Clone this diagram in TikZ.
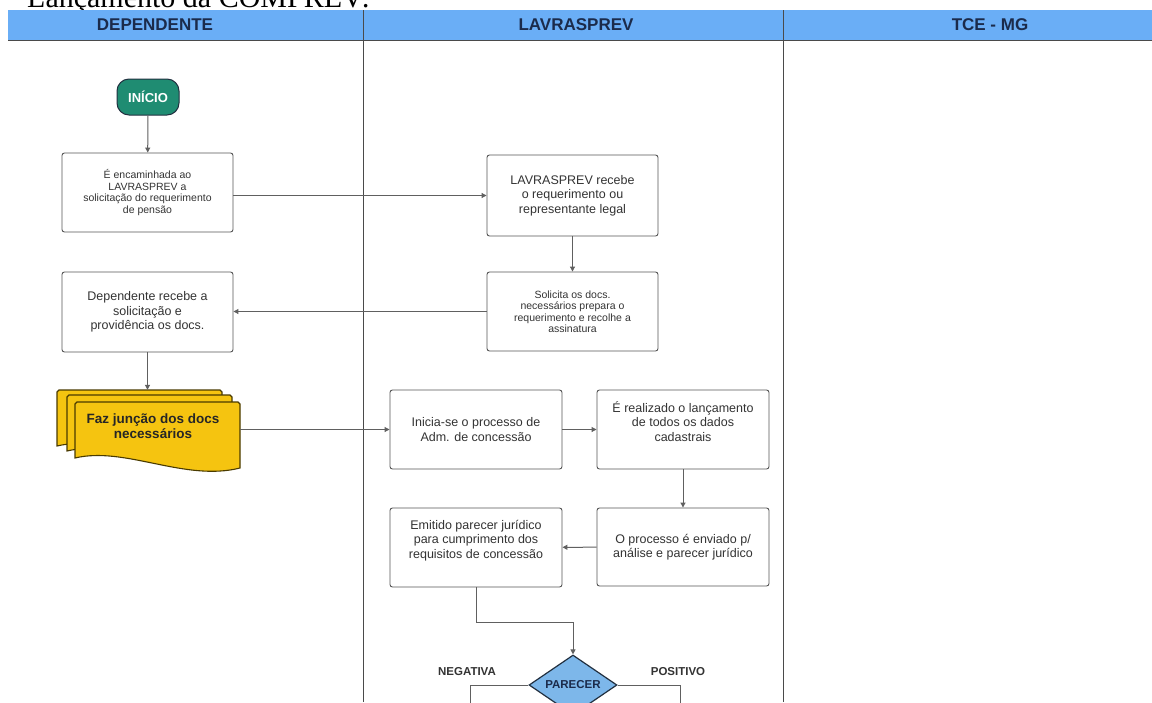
\documentclass[tikz,border=0pt]{standalone}
\usepackage{fontspec}
\setmainfont{Liberation Sans}
\newfontfamily\titlefont{Liberation Serif}
\usetikzlibrary{arrows.meta,shapes.geometric,calc}
\definecolor{hdr}{HTML}{6AAEF6}
\definecolor{hdrtxt}{HTML}{1B2B4B}
\definecolor{lanec}{HTML}{4A4A4A}
\definecolor{boxc}{HTML}{555555}
\definecolor{txtc}{HTML}{333333}
\definecolor{arrc}{HTML}{606060}
\definecolor{tealc}{HTML}{1F8C72}
\definecolor{docc}{HTML}{F5C410}
\definecolor{docb}{HTML}{4A3B00}
\definecolor{diac}{HTML}{7DB7EA}
\definecolor{diab}{HTML}{223040}
\newcommand\docsheet[2]{%
  \draw[docst] (#1,#2+56) -- (#1,#2+2) -- (#1+2,#2) -- (#1+163,#2) -- (#1+165,#2+2) -- (#1+165,#2+66)
    .. controls (#1+110,#2+80) and (#1+50,#2+44) .. (#1,#2+56) -- cycle;}
\begin{document}
\begin{tikzpicture}[x=1pt,y=-1pt,
  box/.style={draw=boxc, line width=0.9pt, rounded corners=2.5pt, fill=white,
    minimum width=171pt, minimum height=79pt, align=center, text=txtc,
    font=\fontsize{12.5}{14.5}\selectfont, inner sep=2pt},
  sbox/.style={box, font=\fontsize{10.5}{11.5}\selectfont},
  arr/.style={draw=arrc, line width=1pt, -{Triangle[length=5pt,width=5pt]}},
  ln/.style={draw=arrc, line width=1pt},
  hd/.style={font=\fontsize{17}{17}\selectfont\bfseries, text=hdrtxt},
  lbl/.style={font=\fontsize{11.5}{11.5}\selectfont\bfseries, text=txtc},
  docst/.style={draw=docb, line width=1.1pt, fill=docc},
  lane/.style={draw=lanec, line width=0.9pt}]
\useasboundingbox (0,0) rectangle (1152,702);
\clip (0,0) rectangle (1152,702);
\fill[white] (0,0) rectangle (1152,702);
% title (cut at the top)
\node[anchor=base west, inner sep=0pt, font=\titlefont\fontsize{30}{30}\selectfont] (title) at (27,7) {Lançamento da COMPREV:};
% header band
\fill[hdr] (8,10) rectangle (1152,40);
\draw[lane] (8,40) -- (1152,40);
\draw[lane] (363,10) -- (363,702);
\draw[lane] (783,10) -- (783,702);
\node[hd] (h1) at (155,25) {DEPENDENTE};
\node[hd] (h2) at (576,25) {LAVRASPREV};
\node[hd] (h3) at (990,25) {TCE - MG};
% start
\node[draw=diab, line width=1pt, fill=tealc, rounded corners=12pt, minimum width=62pt, minimum height=36pt,
  text=white, font=\fontsize{13}{13}\selectfont\bfseries] (start) at (148,97) {INÍCIO};
% boxes
\node[sbox] (b1) at (147.5,192.5) {É encaminhada ao\\LAVRASPREV a\\solicitação do requerimento\\de pensão};
\node[box, minimum height=81pt] (b2) at (572.5,195.5) {LAVRASPREV recebe\\o requerimento ou\\representante legal};
\node[sbox] (b3) at (572.5,311.5) {Solicita os docs.\\necessários prepara o\\requerimento e recolhe a\\assinatura};
\node[box, minimum height=80pt] (b4) at (147.5,312) {Dependente recebe a\\solicitação e\\providência os docs.};
% document stack
\docsheet{57}{390}
\docsheet{67}{395}
\docsheet{75}{402}
\node[minimum width=183pt, minimum height=80pt, inner sep=0pt] (stack) at (148.5,430) {};
\node[align=center, font=\fontsize{13.5}{15}\selectfont\bfseries, text=black!85] (doc) at (153,426) {Faz junção dos docs\\necessários};
\node[box, minimum width=172pt] (b5) at (476,429.5) {Inicia-se o processo de\\Adm. de concessão};
\node[box, minimum width=172pt] (b6) at (683,429.5) {É realizado o lançamento\\de todos os dados\\cadastrais\\[2pt]};
\node[box, minimum width=172pt, minimum height=78pt] (b7) at (683,547) {O processo é enviado p/\\análise e parecer jurídico};
\node[box, minimum width=172pt] (b8) at (476,547.5) {Emitido parecer jurídico\\para cumprimento dos\\requisitos de concessão\\[2pt]};
\node[diamond, aspect=1.47, minimum width=88pt, minimum height=60pt, inner sep=0pt, fill=diac, draw=diab,
  line width=1.2pt, font=\fontsize{11.5}{11.5}\selectfont\bfseries, text=hdrtxt] (dia) at (573,685) {PARECER};
\node[lbl] (neg) at (467,672) {NEGATIVA};
\node[lbl] (pos) at (678,672) {POSITIVO};
% connectors
\draw[arr] (start) -- (b1);
\draw[arr] (b1.east |- b2.west) -- (b2.west);
\draw[arr] (b2) -- (b3);
\draw[arr] (b3.west) -- (b3.west -| b4.east);
\draw[arr] (b4.south) -- (b4.south |- stack.north);
\draw[arr] (stack.east |- b5.west) -- (b5.west);
\draw[arr] (b5) -- (b6);
\draw[arr] (b6) -- (b7);
\draw[arr] (b7) -- (b8);
\coordinate (bend) at (573,622);
\draw[arr] (b8.south) |- (bend) -- (dia.north);
\coordinate (negend) at (470,710);
\coordinate (posend) at (680,710);
\draw[ln] (dia.west) -| (negend);
\draw[ln] (dia.east) -| (posend);
\end{tikzpicture}
\end{document}
